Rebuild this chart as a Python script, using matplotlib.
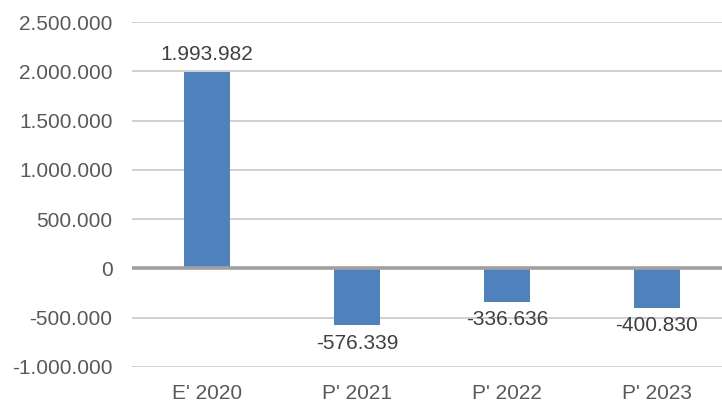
import matplotlib.pyplot as plt
from matplotlib.ticker import FuncFormatter

categories = ["E' 2020", "P' 2021", "P' 2022", "P' 2023"]
values = [1993982, -576339, -336636, -400830]
y_ticks = [-1000000, -500000, 0, 500000, 1000000, 1500000, 2000000, 2500000]

plt.rcParams['font.family'] = ['Liberation Sans', 'DejaVu Sans']


def dot_fmt(v, pos=None):
    # thousands separated by dots, e.g. 1.993.982
    s = f"{abs(int(round(v))):,}".replace(",", ".")
    return ("-" if v < 0 else "") + s


fig = plt.figure(figsize=(7.22, 4.03), dpi=100)
ax = fig.add_axes([132 / 722, 36 / 403, 600 / 722, 345 / 403])

x = range(len(categories))
ax.bar(x, values, width=0.31, color='#4F81BD', zorder=3)

ax.set_xlim(-0.5, len(categories) - 0.5)
ax.set_ylim(-1000000, 2500000)
ax.set_yticks(y_ticks)
ax.yaxis.set_major_formatter(FuncFormatter(dot_fmt))
ax.set_xticks(list(x))
ax.set_xticklabels(categories)

# gridlines and the zero line
ax.grid(axis='y', color='#c8c8c8', linewidth=1.2, zorder=0)
ax.axhline(0, color='#a0a0a0', linewidth=2.6, zorder=4)

for s in ax.spines.values():
    s.set_visible(False)
ax.tick_params(axis='both', length=0, labelsize=15, labelcolor='#595959')
ax.tick_params(axis='y', pad=14)
ax.tick_params(axis='x', pad=12)

# value labels
for i, v in enumerate(values):
    if v >= 0:
        ax.annotate(dot_fmt(v), (i, v), xytext=(0, 6), textcoords='offset points',
                    ha='center', va='bottom', fontsize=15, color='#404040')
    else:
        ax.annotate(dot_fmt(v), (i, v), xytext=(0, -6), textcoords='offset points',
                    ha='center', va='top', fontsize=15, color='#404040')

plt.savefig('out.png', dpi=100)
